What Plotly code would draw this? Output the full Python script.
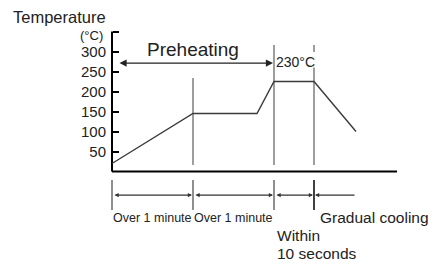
import plotly.graph_objects as go

# ---- data (schematic reflow profile) ----
profile_time = [0, 81, 145, 162, 202, 244]        # schematic time units
profile_temp = [20, 145, 145, 225, 225, 100]      # °C
temp_ticks = [50, 100, 150, 200, 250, 300, 350]
temp_tick_labels = ["50", "100", "150", "200", "250", "300", ""]
phase_edges = [0, 81, 162, 202]                   # phase boundaries on time line
cooling_end = 244
guide_times = [81, 162, 202]
guide_tops = [234, 316, 316]
guide_bottom = 16
peak_label = "230°C"
preheat_label = "Preheating"
phase_labels = ["Over 1 minute", "Over 1 minute", "Within", "Gradual cooling"]
time_axis_end = 285
temp_axis_top = 350

FONT = "Liberation Sans, Arial, sans-serif"
TXT = "#222222"
GRAY = "#6a6a6a"

# page body has an 8px margin, so the figure is drawn 8px in from the corner
W, H = 428, 256

fig = go.Figure()

# axes lines
fig.add_trace(go.Scatter(x=[0, 0, None, 0, time_axis_end], y=[temp_axis_top, 0, None, 0, 0],
                         mode="lines", line=dict(color="black", width=2), hoverinfo="skip"))

# guide verticals (upper part)
gx, gy = [], []
for t, top in zip(guide_times, guide_tops):
    if t == 202:
        gx += [t, t, None, t, t, None]
        gy += [top, 299, None, 260, guide_bottom, None]
    else:
        gx += [t, t, None]
        gy += [top, guide_bottom, None]
fig.add_trace(go.Scatter(x=gx, y=gy, mode="lines", line=dict(color=GRAY, width=1.3), hoverinfo="skip"))

# profile
fig.add_trace(go.Scatter(x=profile_time, y=profile_temp, mode="lines",
                         line=dict(color="#3a3a3a", width=1.4), hoverinfo="skip"))

# time-line ticks
tx, ty = [], []
for t in phase_edges:
    if t != 202:
        tx += [t, t, None]
        ty += [-21, -96, None]
fig.add_trace(go.Scatter(x=tx, y=ty, mode="lines", line=dict(color=GRAY, width=1.5), hoverinfo="skip"))
fig.add_trace(go.Scatter(x=[202, 202], y=[-21, -96], mode="lines",
                         line=dict(color="black", width=1.5), hoverinfo="skip"))

annotations = []
# time-line arrows
segs = list(zip(phase_edges[:-1], phase_edges[1:]))
for a, b in segs:
    annotations.append(dict(x=b, y=-59, ax=a, ay=-59, xref="x", yref="y", axref="x", ayref="y",
                            text="", showarrow=True, arrowside="end+start", arrowhead=2,
                            startarrowhead=2, arrowsize=0.7, startarrowsize=0.7,
                            arrowwidth=1.2, arrowcolor="#333", standoff=1, startstandoff=1))
annotations.append(dict(x=phase_edges[-1], y=-59, ax=cooling_end, ay=-59, xref="x", yref="y",
                        axref="x", ayref="y", text="", showarrow=True, arrowhead=2,
                        arrowsize=0.7, arrowwidth=1.2, arrowcolor="#333", standoff=1))
# preheating arrow
annotations.append(dict(x=phase_edges[2], y=271, ax=0, ay=271, xref="x", yref="y", axref="x", ayref="y",
                        text="", showarrow=True, arrowside="end+start", arrowhead=2, startarrowhead=2,
                        arrowsize=1.1, startarrowsize=1.1, arrowwidth=1.3, arrowcolor="#222",
                        standoff=1, startstandoff=6))

def txt(x, y, s, size, xanchor="center"):
    annotations.append(dict(x=x, y=y, xref="x", yref="y", text=s, showarrow=False,
                            xanchor=xanchor, yanchor="middle", borderpad=0,
                            font=dict(family=FONT, size=size, color=TXT)))

txt(-100, 386, "Temperature", 16.5, "left")
txt(-8, 340, "(°C)", 13, "right")
txt(phase_edges[1], 306, preheat_label, 19)
txt(phase_edges[2] + 1, 274, peak_label, 14, "left")
txt((phase_edges[0] + phase_edges[1]) / 2, -116, phase_labels[0], 12.5)
txt((phase_edges[1] + phase_edges[2]) / 2, -116, phase_labels[1], 12.5)
txt(phase_edges[2] + 2, -159, phase_labels[2], 15.5, "left")
txt(phase_edges[2] + 2, -204, "10 seconds", 15.5, "left")
txt(phase_edges[3] + 5, -116, phase_labels[3], 15.5, "left")

# screen px sx = fig px + 8 ; t=0 at screen 112, 0°C at screen 171.5, 0.4 px/°C
fig.update_layout(
    width=W, height=H, margin=dict(l=0, r=0, t=0, b=0),
    paper_bgcolor="white", plot_bgcolor="white", showlegend=False,
    annotations=annotations,
    xaxis=dict(range=[-104, W - 104], visible=False, fixedrange=True),
    yaxis=dict(range=[(163.5 - H) / 0.4, 163.5 / 0.4], anchor="free", position=104 / W,
               showline=False, showgrid=False, zeroline=False,
               ticks="inside", ticklen=6, tickwidth=1.5, tickcolor="black",
               tickvals=temp_ticks, ticktext=temp_tick_labels, ticklabelstandoff=6,
               tickfont=dict(family=FONT, size=15, color=TXT), fixedrange=True),
)

fig.write_html("out.html")
